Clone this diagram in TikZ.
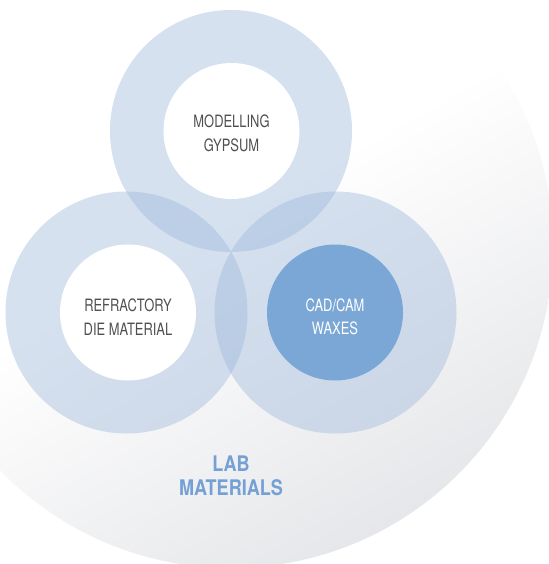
\documentclass[tikz,border=0pt]{standalone}
\usepackage{fontspec}
\newfontfamily\condfont[FakeStretch=0.76]{TeX Gyre Heros}
\newfontfamily\condbold[FakeStretch=0.84]{TeX Gyre Heros}
\definecolor{ringblue}{HTML}{9DB8DB}
\definecolor{darkblue}{HTML}{7BA7D6}
\definecolor{txtgray}{HTML}{505050}
\definecolor{labblue}{HTML}{74A0D5}
\definecolor{bggray}{HTML}{E5E6E9}
\pgfdeclarehorizontalshading{bgshade}{100bp}{color(0bp)=(white); color(48bp)=(white); color(76bp)=(bggray); color(100bp)=(bggray)}
\begin{document}
\begin{tikzpicture}[x=1bp,y=-1bp,
  ring/.style={circle, inner sep=0pt, minimum size=242bp, fill=ringblue, fill opacity=0.42},
  core/.style={circle, inner sep=0pt, minimum size=136bp, fill=white},
  corefull/.style={core, fill=darkblue},
  lbl/.style={font=\condfont\fontsize{17bp}{23.5bp}\selectfont, text=txtgray, align=center, inner sep=0pt},
  lblw/.style={lbl, text=white},
  title/.style={font=\condbold\bfseries\fontsize{21.5bp}{23.5bp}\selectfont, text=labblue, align=center, inner sep=0pt}]
\useasboundingbox (0,0) rectangle (549,564);
\clip (0,0) rectangle (549,564);
\shade[shading=bgshade, shading angle=-60] (231,246) circle[radius=322bp];
\node[ring] (rtop) at (231,131) {};
\node[ring] (rleft) at (126.5,312.5) {};
\node[ring] (rright) at (335.5,312.5) {};
\node[core] (ctop) at (231.5,131) {};
\node[core] (cleft) at (128,312.5) {};
\node[corefull] (cright) at (335,312.5) {};
\node[lbl] (ttop) at ([yshift=-2.5bp]ctop.center) {MODELLING\\GYPSUM};
\node[lbl] (tleft) at ([yshift=-4.5bp]cleft.center) {REFRACTORY\\DIE MATERIAL};
\node[lblw] (tright) at ([yshift=-4.5bp]cright.center) {CAD/CAM\\WAXES};
\node[title] (lab) at (231,476) {LAB\\MATERIALS};
\end{tikzpicture}
\end{document}
